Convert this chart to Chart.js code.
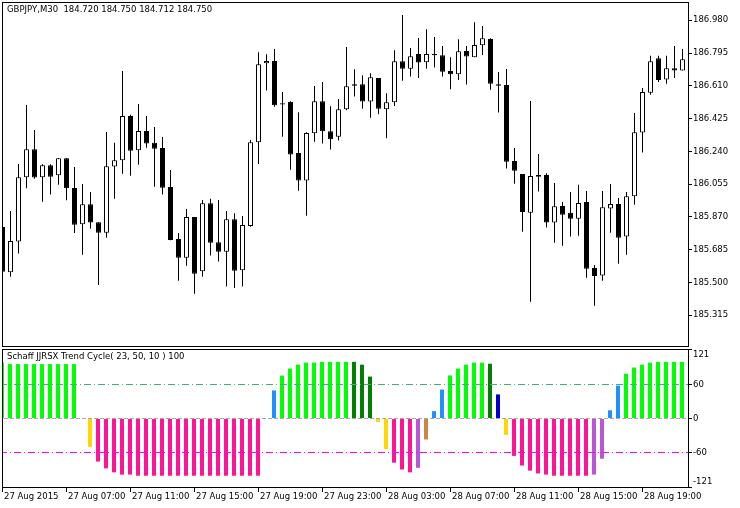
<!doctype html>
<html lang="en">
<head>
<meta charset="utf-8">
<style>
  body { margin: 0; background: #fff; }
  #wrap { position: relative; width: 740px; height: 508px; overflow: hidden; background: #fff; }
  .pane { position: absolute; left: 0; width: 740px; }
</style>
</head>
<body>
<div id="wrap">
  <div class="pane" style="top:0;height:348px"><canvas id="priceChart"></canvas></div>
  <div class="pane" style="top:347px;height:161px"><canvas id="stcChart"></canvas></div>
</div>

<script src="https://cdn.jsdelivr.net/npm/chart.js"></script>
<script>
// GBPJPY M30 candles, one entry per bar (27 Aug 2015 03:00 onwards)
const openP = [185.813,185.558,185.731,186.094,186.252,186.094,186.162,186.105,186.201,186.034,
  185.829,185.942,185.840,185.781,186.154,186.190,186.440,186.246,186.355,186.288,
  186.259,186.039,185.746,185.640,185.870,185.563,185.947,185.727,185.674,185.857,
  185.569,185.819,186.292,186.737,186.750,186.512,186.519,186.231,186.075,186.342,
  186.523,186.354,186.323,186.478,186.619,186.619,186.521,186.654,186.478,186.517,
  186.749,186.707,186.790,186.743,186.790,186.783,186.694,186.675,186.807,186.771,
  186.839,186.874,186.619,186.615,186.186,186.113,185.894,186.107,186.107,185.838,
  185.932,185.893,185.860,185.955,185.582,185.539,185.917,185.943,185.759,185.987,
  186.346,186.571,186.766,186.645,186.709,186.696];
const highP = [185.830,185.904,186.169,186.502,186.361,186.167,186.167,186.203,186.203,186.152,
  186.056,186.011,185.840,186.350,186.288,186.694,186.446,186.508,186.440,186.378,
  186.321,186.135,185.780,185.915,185.870,185.966,185.973,185.966,185.904,185.891,
  185.876,186.304,186.799,186.788,186.818,186.575,186.523,186.461,186.348,186.609,
  186.632,186.495,186.536,186.829,186.703,186.670,186.681,186.654,186.568,186.811,
  187.010,186.824,186.880,186.929,186.886,186.835,186.771,186.873,186.835,186.969,
  186.948,186.878,186.688,186.705,186.259,186.113,186.525,186.225,186.117,186.062,
  185.955,186.011,186.051,186.017,185.599,186.017,186.056,185.977,186.011,186.457,
  186.598,186.779,186.779,186.779,186.835,186.818];
const lowP = [185.543,185.533,185.663,186.032,186.086,185.956,185.996,186.051,185.964,185.780,
  185.657,185.804,185.486,185.753,185.973,186.114,186.103,186.165,186.261,186.041,
  185.996,185.738,185.510,185.595,185.437,185.533,185.652,185.618,185.477,185.469,
  185.477,185.815,186.169,186.583,186.492,186.323,186.137,186.018,185.877,186.295,
  186.284,186.250,186.301,186.472,186.549,186.481,186.430,186.450,186.314,186.496,
  186.639,186.662,186.654,186.707,186.713,186.662,186.591,186.643,186.617,186.771,
  186.784,186.588,186.459,186.143,186.058,185.787,185.392,186.013,185.810,185.725,
  185.708,185.759,185.764,185.527,185.369,185.510,185.781,185.606,185.657,185.939,
  186.233,186.560,186.632,186.621,186.654,186.696];
const closeP = [185.560,185.734,186.094,186.252,186.092,186.162,186.097,186.201,186.032,185.826,
  185.942,185.838,185.781,186.156,186.190,186.440,186.244,186.355,186.284,186.255,
  186.035,185.740,185.640,185.870,185.550,185.947,185.725,185.674,185.857,185.567,
  185.825,186.292,186.732,186.750,186.500,186.504,186.222,186.075,186.344,186.523,
  186.354,186.308,186.478,186.608,186.611,186.521,186.658,186.481,186.517,186.749,
  186.707,186.777,186.741,186.790,186.783,186.690,186.675,186.805,186.775,186.841,
  186.878,186.622,186.611,186.182,186.131,185.898,186.101,186.097,185.838,185.930,
  185.883,185.860,185.949,185.578,185.537,185.925,185.943,185.753,185.987,186.348,
  186.575,186.749,186.643,186.709,186.696,186.760];

// Schaff JJRSX Trend Cycle histogram (null = no bar)
const stcValues = [99,96,96,96,96,96,96,96,96,96,
  null,-50,-76,-88,-95,-99,-99,-101,-101,-101,
  -101,-101,-101,-101,-101,-101,-101,-101,-101,-101,
  -101,-101,-101,null,49.5,75.7,88,95,98.5,98.5,
  100,100,100,100,100,95,74,-6,-54,-78,
  -90,-95,-87,-37,13,51,76,88,95,98.5,
  98.5,96.7,42.5,-29,-66,-83,-92,-97,-99,-101,
  -101,-101,-101,-101,-99,-71,14.5,58,79,90,
  95,98.5,100,100,100,100];
const stcColors = ['lime','lime','lime','lime','lime','lime','lime','lime','lime','lime',
  'lime','gold','deeppink','deeppink','deeppink','deeppink','deeppink','deeppink','deeppink','deeppink',
  'deeppink','deeppink','deeppink','deeppink','deeppink','deeppink','deeppink','deeppink','deeppink','deeppink',
  'deeppink','deeppink','deeppink','lime','dodgerblue','lime','lime','lime','lime','lime',
  'lime','lime','lime','lime','green','green','green','gold','gold','deeppink',
  'deeppink','deeppink','mediumorchid','peru','dodgerblue','dodgerblue','lime','lime','lime','lime',
  'lime','green','mediumblue','gold','deeppink','deeppink','deeppink','deeppink','deeppink','deeppink',
  'deeppink','deeppink','deeppink','deeppink','mediumorchid','mediumorchid','dodgerblue','dodgerblue','lime','lime',
  'lime','lime','lime','lime','lime','lime'];

const priceTicks = [186.980, 186.795, 186.610, 186.425, 186.240, 186.055, 185.870, 185.685, 185.500, 185.315];
const stcTicks = [121, 60, 0, -60, -121];
const stcLevels = [60, -60];
const timeTickBars = [0, 8, 16, 24, 32, 40, 48, 56, 64, 72, 80];
const timeLabels = ['27 Aug 2015', '27 Aug 07:00', '27 Aug 11:00', '27 Aug 15:00', '27 Aug 19:00',
  '27 Aug 23:00', '28 Aug 03:00', '28 Aug 07:00', '28 Aug 11:00', '28 Aug 15:00', '28 Aug 19:00'];

const mainTitle = 'GBPJPY,M30  184.720 184.750 184.712 184.750';
const stcTitle = 'Schaff JJRSX Trend Cycle( 23, 50, 10 ) 100';

const FONT = { family: '"DejaVu Sans", sans-serif', size: 8.5 };
Chart.defaults.font.family = FONT.family;
Chart.defaults.font.size = FONT.size;
Chart.defaults.color = '#000';

// black frame round the plot area plus the little caption in its corner
const paneFrame = {
    id: 'paneFrame',
    afterDraw(chart, args, opts) {
        const { ctx, chartArea: a } = chart;
        ctx.save();
        ctx.strokeStyle = '#000';
        ctx.lineWidth = 1;
        ctx.strokeRect(a.left + 0.5, a.top + 0.5, a.right - a.left - 1, a.bottom - a.top - 1);
        ctx.font = FONT.size + 'px ' + FONT.family;
        ctx.fillStyle = '#000';
        ctx.textBaseline = 'middle';
        ctx.fillText(opts.text, a.left + 5, a.top + 8);
        ctx.restore();
    }
};

// keep the axis from pushing the plot area in for its end labels
function fixAxis(w, h) {
    return s => {
        if (w) s.width = w;
        if (h) s.height = h;
        s.paddingTop = 0; s.paddingBottom = 0;
        s.paddingLeft = 0; s.paddingRight = 0;
    };
}

const bars = openP.map((o, i) => i);

// ---- price pane ----
new Chart(document.getElementById('priceChart'), {
    type: 'bar',
    data: {
        datasets: [{
            label: 'body',
            order: 1,
            data: bars.map(i => ({ x: i, y: [openP[i], closeP[i]] })),
            backgroundColor: bars.map(i => closeP[i] >= openP[i] ? '#ffffff' : '#000000'),
            borderColor: '#000',
            borderWidth: 1,
            borderSkipped: false,
            barThickness: 5,
            inflateAmount: 0,
            grouped: false
        }, {
            label: 'wick',
            order: 2,
            data: bars.map(i => ({ x: i, y: [lowP[i], highP[i]] })),
            backgroundColor: '#000',
            borderWidth: 0,
            barThickness: 1,
            inflateAmount: 0,
            grouped: false
        }]
    },
    options: {
        responsive: true,
        maintainAspectRatio: false,
        animation: false,
        events: [],
        layout: { padding: { left: 2, top: 2, right: 0, bottom: 1 } },
        plugins: {
            legend: { display: false },
            tooltip: { enabled: false },
            paneFrame: { text: mainTitle }
        },
        scales: {
            x: {
                type: 'linear',
                display: false,
                offset: false,
                min: -0.0625,
                max: 85.8125
            },
            y: {
                position: 'right',
                min: 185.136,
                max: 187.083,
                afterBuildTicks: s => { s.ticks = priceTicks.map(v => ({ value: v })); },
                afterFit: fixAxis(51, 0),
                ticks: { callback: v => v.toFixed(3), padding: 1, autoSkip: false },
                grid: { drawOnChartArea: false, drawTicks: true, tickLength: 3, color: '#000' },
                border: { display: false }
            }
        }
    },
    plugins: [paneFrame]
});

// ---- indicator pane ----
const levelSets = stcLevels.map(v => ({
    type: 'line',
    order: 0,
    data: [{ x: -2, y: v }, { x: 90, y: v }],
    borderColor: v > 0 ? '#3cb371' : '#ff00ff',
    borderWidth: 1,
    borderDash: [7, 3, 1, 3],
    pointRadius: 0
}));
levelSets.push({
    type: 'line',
    order: 0,
    data: [{ x: -2, y: 0 }, { x: 90, y: 0 }],
    borderColor: '#a8a8a8',
    borderWidth: 1,
    borderDash: [4, 2],
    pointRadius: 0
});

new Chart(document.getElementById('stcChart'), {
    type: 'bar',
    data: {
        datasets: [{
            label: 'STC',
            order: 1,
            data: bars.map(i => ({ x: i, y: stcValues[i] })),
            backgroundColor: stcColors,
            borderWidth: 0,
            barThickness: 4,
            inflateAmount: 0,
            grouped: false
        }, ...levelSets]
    },
    options: {
        responsive: true,
        maintainAspectRatio: false,
        animation: false,
        events: [],
        layout: { padding: { left: 2, top: 2, right: 0, bottom: 0 } },
        plugins: {
            legend: { display: false },
            tooltip: { enabled: false },
            paneFrame: { text: stcTitle }
        },
        scales: {
            x: {
                type: 'linear',
                offset: false,
                min: 0,
                max: 85.875,
                afterBuildTicks: s => { s.ticks = timeTickBars.map(v => ({ value: v })); },
                afterFit: fixAxis(0, 20),
                ticks: {
                    callback: v => timeLabels[timeTickBars.indexOf(v)],
                    align: 'start',
                    labelOffset: 2,
                    padding: 0,
                    maxRotation: 0,
                    minRotation: 0,
                    autoSkip: false
                },
                grid: { drawOnChartArea: false, drawTicks: true, tickLength: 4, color: '#000', offset: false },
                border: { display: false }
            },
            y: {
                position: 'right',
                min: -122.65,
                max: 122.65,
                afterBuildTicks: s => { s.ticks = stcTicks.map(v => ({ value: v })); },
                afterFit: fixAxis(51, 0),
                ticks: {
                    // edge labels sit inside the pane like in the terminal
                    callback: v => v === stcTicks[0] ? ['', String(v)] :
                                   v === stcTicks[stcTicks.length - 1] ? [String(v), ''] : String(v),
                    padding: 1,
                    autoSkip: false
                },
                grid: { drawOnChartArea: false, drawTicks: true, tickLength: 3, color: '#000' },
                border: { display: false }
            }
        }
    },
    plugins: [paneFrame]
});
</script>
</body>
</html>
